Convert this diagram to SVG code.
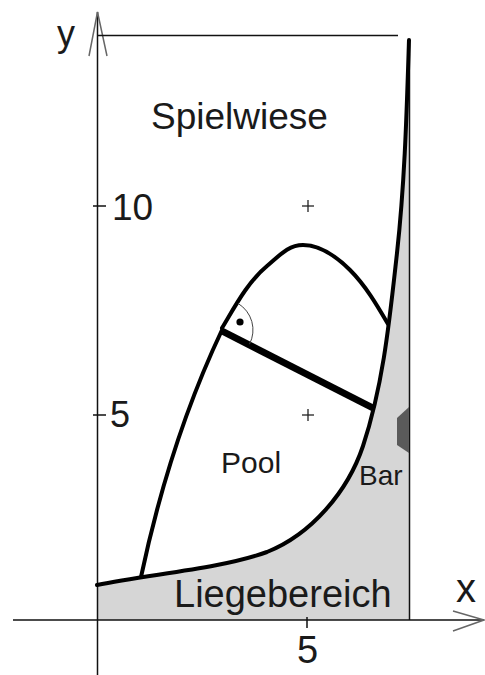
<svg xmlns="http://www.w3.org/2000/svg" width="485" height="675" viewBox="0 0 485 675">
<style>
.ax{stroke:#111;stroke-width:1.5;fill:none}
.arr{stroke:#666;stroke-width:1.5;fill:none}
.thick{stroke:#000;stroke-width:4;fill:none;stroke-linecap:round;stroke-linejoin:round}
.lbl{font-family:"Liberation Sans",Arial,sans-serif;fill:#1a1a1a}
.plus{stroke:#222;stroke-width:1.3}
</style>
<rect width="485" height="675" fill="#fff"/>
<g id="liegebereich-area">
<path fill="#d6d6d6" d="M97,585 C150,574 220,569 267,552 C311.5,534.2 347.8,491.5 363,446 C383.5,384.3 389.8,317.6 397,253 C404.8,182.4 406.7,111 409,40 L409.5,620 L97,620 Z"/>
</g>
<g id="axes">
<line class="ax" x1="97.5" y1="12" x2="97.5" y2="675"/>
<line class="ax" x1="13" y1="620" x2="484" y2="620"/>
<polyline class="arr" points="89,56 97.5,12 107,56"/>
<polyline class="arr" points="453,611 484,620 453,631"/>
<line class="ax" x1="93" y1="206" x2="106" y2="206"/>
<line class="ax" x1="93" y1="415" x2="106" y2="415"/>
<line class="ax" x1="307" y1="617" x2="307" y2="628"/>
<text class="lbl" x="57" y="46" font-size="36">y</text>
<text class="lbl" x="456" y="602" font-size="40">x</text>
<text class="lbl" x="112" y="220" font-size="37">10</text>
<text class="lbl" x="110" y="427" font-size="36">5</text>
<text class="lbl" x="297" y="663" font-size="38">5</text>
</g>
<g id="markers">
<line class="plus" x1="302" y1="206" x2="314" y2="206"/>
<line class="plus" x1="308" y1="200" x2="308" y2="212"/>
<line class="plus" x1="302" y1="415" x2="314" y2="415"/>
<line class="plus" x1="308" y1="409" x2="308" y2="421"/>
</g>
<g id="boundary">
<line class="ax" x1="97" y1="35.5" x2="398" y2="35.5"/>
<line class="ax" x1="409.5" y1="40" x2="409.5" y2="620"/>
</g>
<g id="bar">
<polygon points="397,418 409,407 409,453 397,445" fill="#5a5a5a"/>
<text class="lbl" x="359" y="485" font-size="28">Bar</text>
</g>
<g id="connectors">
<path class="thick" d="M97,585 C150,574 220,569 267,552 C311.5,534.2 347.8,491.5 363,446 C383.5,384.3 389.8,317.6 397,253 C404.8,182.4 406.7,111 409,40"/>
<path class="thick" d="M222,328 C234.9,306.6 247.7,282 267,266 C278.6,256.4 288,245 303,245 C321,245 337.3,257.3 350,270 C365.6,285.6 376.9,305 388,324"/>
<path class="thick" d="M222,330 Q170,440 141,577"/>
<line x1="222" y1="331" x2="373" y2="408" stroke="#000" stroke-width="7"/>
<path d="M238,303.4 A31,31 0 0 1 249.5,344.2" fill="none" stroke="#444" stroke-width="1"/>
<circle cx="240" cy="322" r="3.6" fill="#000"/>
</g>
<g id="spielwiese">
<text class="lbl" x="151" y="129" font-size="37">Spielwiese</text>
</g>
<g id="pool">
<text class="lbl" x="221" y="473" font-size="30">Pool</text>
</g>
<g id="liegebereich">
<text class="lbl" x="174" y="607" font-size="38">Liegebereich</text>
</g>
</svg>
